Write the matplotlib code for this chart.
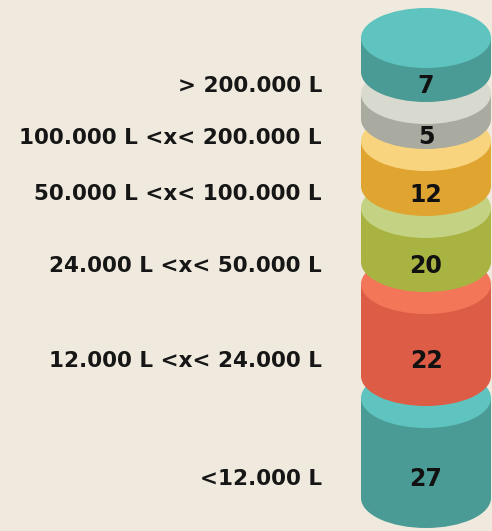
import matplotlib
matplotlib.use("Agg")
import matplotlib.pyplot as plt
from matplotlib.patches import Ellipse, Rectangle

# categorieen van boven naar beneden
labels = ["> 200.000 L", "100.000 L <x< 200.000 L", "50.000 L <x< 100.000 L",
          "24.000 L <x< 50.000 L", "12.000 L <x< 24.000 L", "<12.000 L"]
values = [7, 5, 12, 20, 22, 27]
sizes = [34, 25, 45, 54, 92, 100]

face_colors = ["#5fc4bf", "#d8d9cf", "#f8d47e", "#c4d383", "#f47659", "#5fc4bf"]
body_colors = ["#4a9b95", "#a9aaa0", "#e0a431", "#a8b341", "#dc5c45", "#4a9b95"]

BG = "#efeadd"
CX, RX, RY = 426, 65, 30
TOP = 38
GAP = 22

fig = plt.figure(figsize=(4.92, 5.31), dpi=100)
fig.patch.set_facecolor(BG)
ax = fig.add_axes([0, 0, 1, 1])
ax.set_facecolor(BG)
ax.set_xlim(0, 492)
ax.set_ylim(531, 0)
ax.axis("off")

# posities van segmenten
tops = []
y = TOP
for s in sizes:
    tops.append(y)
    y += s + GAP

# onderste segment eerst tekenen
for i in reversed(range(len(values))):
    t = tops[i]
    b = t + sizes[i]
    ax.add_patch(Ellipse((CX, b), 2 * RX, 2 * RY, color=body_colors[i], lw=0))
    ax.add_patch(Rectangle((CX - RX, t), 2 * RX, b - t, color=body_colors[i], lw=0))
    ax.add_patch(Ellipse((CX, t), 2 * RX, 2 * RY, color=face_colors[i], lw=0))
    mid = (t + b) / 2 + RY + 1
    ax.text(CX, mid, str(values[i]), ha="center", va="center", fontsize=17,
            fontfamily="DejaVu Sans", fontweight="bold", color="#111111")
    ax.text(322, mid, labels[i], ha="right", va="center", fontsize=15.5,
            fontfamily="DejaVu Sans", fontweight="bold", color="#161616")

fig.savefig("out.png", dpi=100, facecolor=BG)
